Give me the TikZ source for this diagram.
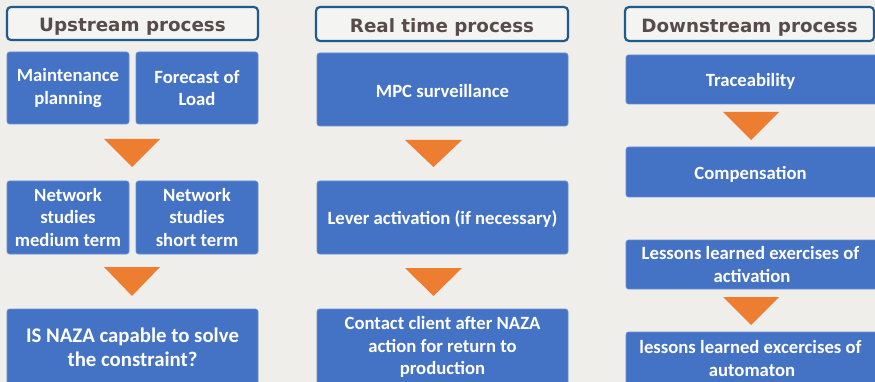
\documentclass[tikz,border=0pt]{standalone}
\usepackage{fontspec}
\setmainfont{Carlito}
\newfontfamily\headfont{DejaVu Sans}
\definecolor{bgcol}{HTML}{EFEEEB}
\definecolor{boxblue}{HTML}{4472C4}
\definecolor{boxedge}{HTML}{6A8FD3}
\definecolor{headedge}{HTML}{1F5A8E}
\definecolor{headfill}{HTML}{F4F4F2}
\definecolor{headtext}{HTML}{574B4B}
\definecolor{arrowor}{HTML}{ED7D31}
\begin{document}
\begin{tikzpicture}[x=1pt,y=-1pt,
  header/.style={draw=headedge, line width=2.2pt, fill=headfill, rounded corners=4pt,
    text=headtext, font=\headfont\bfseries\fontsize{18.3}{20}\selectfont, inner sep=0pt,
    text height=18pt, text depth=1pt},
  blk/.style={draw=boxedge, line width=0.6pt, fill=boxblue, rounded corners=2.5pt,
    text=white, font=\bfseries\fontsize{18.7}{22.5}\selectfont, align=center, inner sep=2pt,
    execute at begin node={\rule{0pt}{17pt}}},
  bigblk/.style={blk, font=\bfseries\fontsize{20.8}{24}\selectfont,
    execute at begin node={\rule{0pt}{19pt}}},
  tri/.style={fill=arrowor}]
% canvas
\fill[bgcol] (0,0) rectangle (875,382);
\useasboundingbox (0,0) rectangle (875,382);
\begin{scope}
\clip (0,0) rectangle (875,382);

% --- column headers
\node[header, minimum width=251pt, minimum height=33pt] (hU) at (132.5,23.5) {Upstream process};
\node[header, minimum width=252pt, minimum height=34pt] (hR) at (442,24) {Real time process};
\node[header, minimum width=249pt, minimum height=34pt] (hD) at (749.5,24) {Downstream process};

% --- upstream column
\node[blk, minimum width=122pt, minimum height=72pt] (mp) at (68,88) {Maintenance\\planning};
\node[blk, minimum width=122pt, minimum height=72pt] (fl) at (197,88) {Forecast of\\Load};
\fill[tri] (104,139) -- (160,139) -- (132,167) -- cycle;
\node[blk, minimum width=122pt, minimum height=73pt] (nm) at (68,217.5) {Network\\studies\\medium term};
\node[blk, minimum width=122pt, minimum height=73pt] (ns) at (197,217.5) {Network\\studies\\short term};
\fill[tri] (104,267) -- (160,267) -- (132,296) -- cycle;
\node[bigblk, minimum width=251pt, minimum height=76pt] (naza) at (132.5,347) {IS NAZA capable to solve\\the constraint?};

% --- real time column
\node[blk, minimum width=251pt, minimum height=73pt] (mpc) at (442.5,89.5) {MPC surveillance};
\fill[tri] (405,140) -- (462,140) -- (433.5,167) -- cycle;
\node[blk, minimum width=251pt, minimum height=73pt] (lev) at (442.5,217.5) {Lever activation (if necessary)};
\fill[tri] (405,268) -- (462,268) -- (433.5,296) -- cycle;
\node[blk, minimum width=251pt, minimum height=76pt] (con) at (442.5,347) {Contact client after NAZA\\action for return to\\production};

% --- downstream column
\node[blk, minimum width=252pt, minimum height=49pt] (tr) at (752,79.5) {\hspace*{-3pt}Traceability};
\fill[tri] (723,112) -- (779,112) -- (751,140) -- cycle;
\node[blk, minimum width=252pt, minimum height=50pt] (comp) at (752,172) {\hspace*{-3pt}Compensation};
\node[blk, minimum width=252pt, minimum height=49pt] (la) at (752,264.5) {\hspace*{-3pt}Lessons learned exercises of\\activation};
\fill[tri] (723,297) -- (779,297) -- (751,325) -- cycle;
\node[blk, minimum width=252pt, minimum height=53pt] (lau) at (752,358.5) {\hspace*{-3pt}lessons learned excercises of\\automaton};
\end{scope}
\end{tikzpicture}
\end{document}
